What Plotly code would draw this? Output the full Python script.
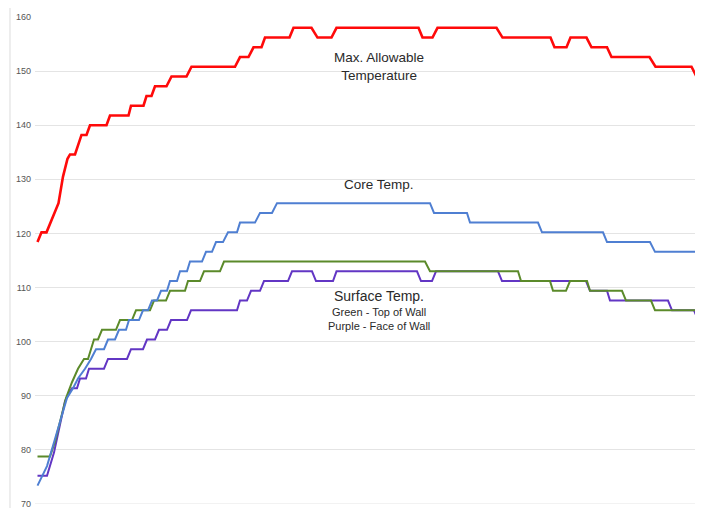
import plotly.graph_objects as go

# Elapsed time (arbitrary units) and temperatures (deg F)
red_t = [0.5, 1.3, 2.3, 4.7, 5.6, 6.5, 7.0, 8.0, 9.3, 10.3, 11.0, 14.3, 15.0, 18.7, 19.2, 21.7, 22.3, 23.3,
         24.0, 26.3, 27.3, 30.3, 31.3, 40.0, 41.0, 42.7, 43.7, 45.3, 46.0, 50.9, 51.7, 55.3, 56.5, 59.3,
         60.3, 76.7, 77.5, 79.5, 80.5, 92.3, 93.5, 103.1, 103.9, 106.3, 107.1, 110.3, 111.3, 114.4, 115.3,
         122.9, 124.1, 131.3, 132.3, 133.0]
red_v = [118.4, 120.2, 120.2, 125.6, 130.5, 133.8, 134.6, 134.6, 138.2, 138.2, 140, 140, 141.8, 141.8,
         143.6, 143.6, 145.4, 145.4, 147.2, 147.2, 149, 149, 150.8, 150.8, 152.6, 152.6, 154.4, 154.4,
         156.2, 156.2, 158, 158, 156.2, 156.2, 158, 158, 156.2, 156.2, 158, 158, 156.2, 156.2, 154.4, 154.4,
         156.2, 156.2, 154.4, 154.4, 152.6, 152.6, 150.8, 150.8, 149, 149]

blue_t = [0.5, 2.4, 4.0, 5.4, 6.4, 7.6, 8.6, 10.0, 11.2, 12.2, 13.8, 14.6, 16.0, 16.8, 18.2, 18.8, 20.8,
          21.6, 22.6, 23.4, 24.4, 25.2, 26.4, 27.0, 28.4, 29.0, 30.4, 31.0, 33.4, 34.2, 35.4, 36.2, 37.6,
          38.6, 40.4, 41.0, 44.0, 45.0, 47.4, 48.4, 79.0, 79.8, 86.4, 87.0, 100.6, 101.4, 113.6, 114.4,
          123.0, 124.0, 133.0]
blue_v = [73.4, 77, 82, 86.5, 89.6, 91.4, 93.2, 95, 96.8, 98.6, 98.6, 100.4, 100.4, 102.2, 102.2, 104, 104,
          105.8, 105.8, 107.6, 107.6, 109.4, 109.4, 111.2, 111.2, 113, 113, 114.8, 114.8, 116.6, 116.6,
          118.4, 118.4, 120.2, 120.2, 122, 122, 123.8, 123.8, 125.6, 125.6, 123.8, 123.8, 122, 122,
          120.2, 120.2, 118.4, 118.4, 116.6, 116.6]

green_t = [0.5, 3.0, 4.0, 5.2, 6.2, 7.4, 8.6, 9.8, 10.6, 11.8, 12.6, 13.4, 16.2, 17.0, 19.4, 20.2, 23.0,
           23.8, 26.2, 27.0, 30.0, 30.6, 33.0, 33.8, 37.0, 37.8, 78.0, 79.0, 96.6, 97.2, 103.0, 103.6,
           106.2, 107.0, 110.4, 111.0, 117.4, 118.2, 123.2, 124.0, 133.0]
green_v = [78.8, 78.8, 81.5, 86, 89.6, 92.5, 95, 96.8, 96.8, 100.4, 100.4, 102.2, 102.2, 104, 104, 105.8,
           105.8, 107.6, 107.6, 109.4, 109.4, 111.2, 111.2, 113, 113, 114.8, 114.8, 113, 113, 111.2, 111.2,
           109.4, 109.4, 111.2, 111.2, 109.4, 109.4, 107.6, 107.6, 105.8, 105.8]

purple_t = [0.5, 2.4, 3.8, 5.0, 6.0, 6.8, 7.4, 8.4, 9.0, 10.2, 10.8, 13.8, 14.6, 18.4, 19.2, 21.6, 22.4,
            24.0, 24.8, 26.4, 27.2, 30.4, 31.2, 40.4, 41.0, 42.4, 43.2, 45.0, 45.8, 50.6, 51.4, 55.4, 56.2,
            59.6, 60.3, 76.4, 77.2, 79.4, 80.2, 92.6, 93.4, 110.2, 111.0, 114.4, 115.0, 126.6, 127.4,
            131.8, 132.6, 133.0]
purple_v = [75.2, 75.2, 79.5, 85, 89, 90.5, 91.4, 91.4, 93.2, 93.2, 95, 95, 96.8, 96.8, 98.6, 98.6, 100.4,
            100.4, 102.2, 102.2, 104, 104, 105.8, 105.8, 107.6, 107.6, 109.4, 109.4, 111.2, 111.2, 113, 113,
            111.2, 111.2, 113, 113, 111.2, 111.2, 113, 113, 111.2, 111.2, 109.4, 109.4, 107.6, 107.6,
            105.8, 105.8, 104, 104]

y_ticks = [70, 80, 90, 100, 110, 120, 130, 140, 150, 160]

fig = go.Figure()
fig.add_trace(go.Scatter(x=purple_t, y=purple_v, mode="lines", name="Face of Wall",
                         line=dict(color="#6236c4", width=2)))
fig.add_trace(go.Scatter(x=green_t, y=green_v, mode="lines", name="Top of Wall",
                         line=dict(color="#5b8a2a", width=2)))
fig.add_trace(go.Scatter(x=blue_t, y=blue_v, mode="lines", name="Core Temp.",
                         line=dict(color="#4f7fd2", width=2)))
fig.add_trace(go.Scatter(x=red_t, y=red_v, mode="lines", name="Max. Allowable Temperature",
                         line=dict(color="#ff0a0a", width=2.6)))

ann_font = dict(family="Liberation Sans, Arial, sans-serif", color="#2a2a2a")
anns = [
    dict(text="Max. Allowable<br>Temperature", y=150.9, size=13.5),
    dict(text="Core Temp.", y=129.1, size=13.5),
    dict(text="Surface Temp.", y=108.45, size=14),
    dict(text="Green - Top of Wall", y=105.5, size=11),
    dict(text="Purple - Face of Wall", y=102.9, size=11),
]
for a in anns:
    fig.add_annotation(text=a["text"], x=0.517, xref="paper", y=a["y"], yref="y",
                       showarrow=False, xanchor="center", yanchor="middle",
                       font=dict(size=a["size"], **ann_font))

# light frame around the chart (top-left corner visible)
fig.add_shape(type="rect", xref="paper", yref="paper", x0=-0.0376, y0=-0.05, x1=1.05, y1=1.0205,
              line=dict(color="#dcdcdc", width=1), layer="below")
# bottom grid line at the lowest tick (plotly omits the edge grid line)
fig.add_shape(type="line", xref="paper", yref="y", x0=0, x1=1, y0=y_ticks[0], y1=y_ticks[0],
              line=dict(color="#e4e4e4", width=1), layer="below")

fig.update_layout(
    width=695, height=508,
    margin=dict(l=27, r=3, t=9, b=12),
    paper_bgcolor="white", plot_bgcolor="white",
    showlegend=False,
    xaxis=dict(range=[0, 133], visible=False, showgrid=False, zeroline=False),
    yaxis=dict(range=[70, 160], tickvals=y_ticks, showgrid=True, gridcolor="#e4e4e4", gridwidth=1,
               zeroline=False, showline=False, ticks="", ticklabelstandoff=3,
               tickfont=dict(family="Liberation Sans, Arial, sans-serif", size=9, color="#555555")),
)

fig.write_html("out.html")
